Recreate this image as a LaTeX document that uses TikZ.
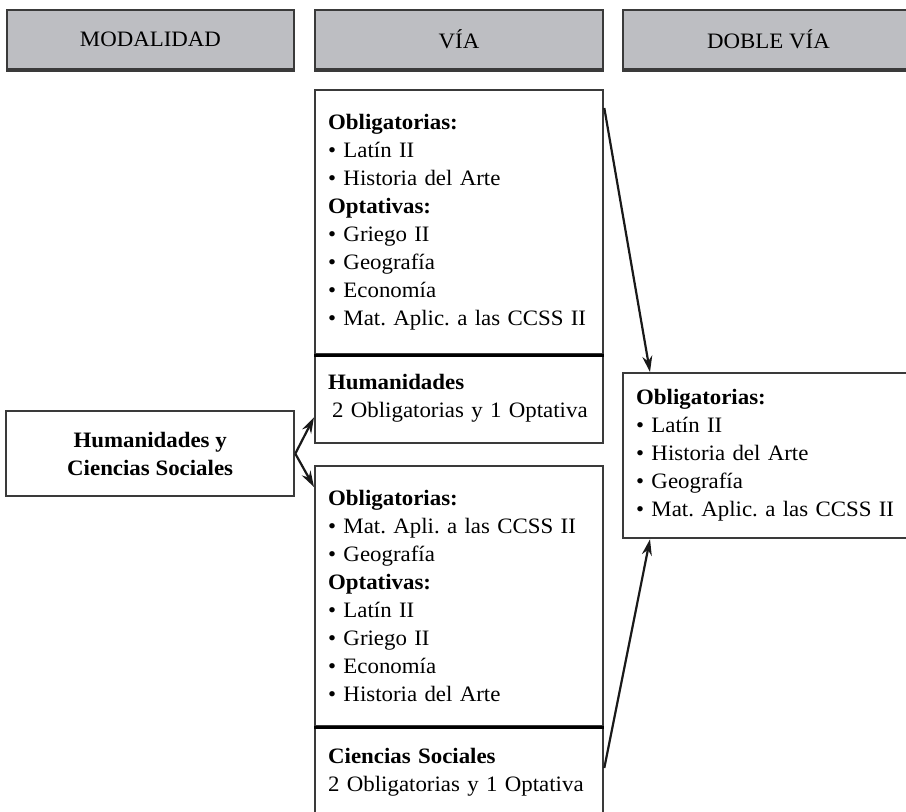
\documentclass[tikz,border=0pt]{standalone}
\usepackage{fontspec}
\setmainfont{Liberation Serif}[FakeStretch=1.04]
\usepackage{xcolor}
\usepackage{tikz}
\usetikzlibrary{arrows.meta}
\definecolor{cabecera}{RGB}{189,190,194}
\definecolor{borde}{RGB}{58,58,58}
\frenchspacing

\begin{document}
\begin{tikzpicture}[x=1pt,y=-1pt,
		caja/.style={draw=borde,line width=2.3pt,anchor=north west,inner xsep=13pt,inner ysep=0pt,text width=262pt,align=left,font=\fontsize{22}{28}\selectfont},
		cabeza/.style={draw=borde,line width=2pt,fill=cabecera,anchor=north west,minimum height=59pt,font=\fontsize{22}{28}\selectfont},
		flecha/.style={-{Stealth[length=16pt,width=10pt]},line width=2.2pt,black!90}]
			\clip (0,0) rectangle (906,812);
			\useasboundingbox (0,0) rectangle (906,812);
			% Cabeceras
			\foreach \t/\x/\w [count=\i] in {MODALIDAD/6/287,VÍA/314/288,DOBLE VÍA/622/291}
			{
				\node[cabeza,minimum width=\w pt] (h\i) at (\x,9) {\t};
				\draw[borde,line width=4pt] (h\i.south west) -- (h\i.south east);
			}
			% Modalidad
			\node[caja,text width=,align=center,minimum width=288pt,minimum height=85pt] (modal) at (5,410)
				{\textbf{Humanidades y}\\\textbf{Ciencias Sociales}};
			% Vía de Humanidades
			\node[caja,minimum height=264pt] (viaHa) at (314,89)
				{\textbf{Obligatorias:}\\• Latín II\\• Historia del Arte\\\textbf{Optativas:}\\• Griego II\\• Geografía\\• Economía\\• Mat. Aplic. a las CCSS II};
			\node[caja,minimum height=89pt] (viaHb) at (314,353)
				{\textbf{Humanidades}\\\hspace*{4pt}2 Obligatorias y 1 Optativa};
			% Vía de Ciencias Sociales
			\node[caja,minimum height=260pt] (viaCa) at (314,465)
				{\textbf{Obligatorias:}\\• Mat. Apli. a las CCSS II\\• Geografía\\\textbf{Optativas:}\\• Latín II\\• Griego II\\• Economía\\• Historia del Arte};
			\node[caja,minimum height=92pt] (viaCb) at (314,725)
				{\textbf{Ciencias Sociales}\\2 Obligatorias y 1 Optativa};
			\draw[line width=3.2pt] (viaHa.south west) -- (viaHa.south east);
			\draw[line width=3.2pt] (viaCa.south west) -- (viaCa.south east);
			% Doble vía
			\node[caja,text width=265pt,inner xsep=13pt,minimum height=165pt] (doble) at (622,372)
				{\textbf{Obligatorias:}\\• Latín II\\• Historia del Arte\\• Geografía\\• Mat. Aplic. a las CCSS II};
			% Flechas
			\draw[flecha] (modal.east) -- ([yshift=27pt]viaHb.south west);
			\draw[flecha] (modal.east) -- ([yshift=-22pt]viaCa.north west);
			\draw[flecha] ([yshift=-19pt]viaHa.north east) -- ([xshift=28pt]doble.north west);
			\draw[flecha] ([yshift=-43pt]viaCb.north east) -- ([xshift=28pt]doble.south west);
		\end{tikzpicture}
\end{document}
